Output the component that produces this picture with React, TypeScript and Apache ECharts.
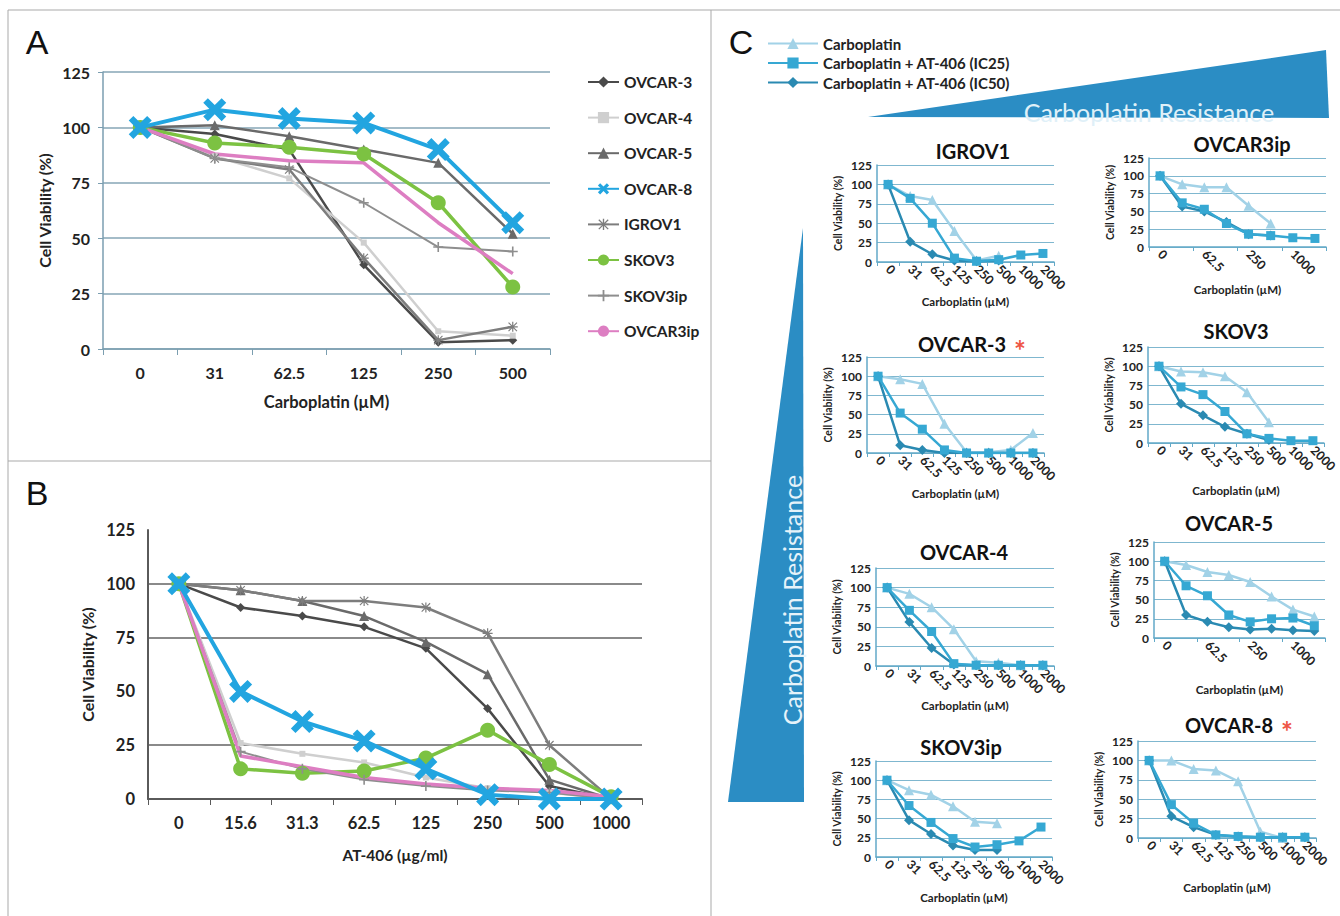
import React, { useEffect, useRef } from 'react';
import * as echarts from 'echarts';

// ---------- DATA ----------
const concA = ['0', '31', '62.5', '125', '250', '500'];
const concB = ['0', '15.6', '31.3', '62.5', '125', '250', '500', '1000'];
const concC = ['0', '31', '62.5', '125', '250', '500', '1000', '2000'];
const lineNames = ['OVCAR-3', 'OVCAR-4', 'OVCAR-5', 'OVCAR-8', 'IGROV1', 'SKOV3', 'SKOV3ip', 'OVCAR3ip'];

// Panel A: carboplatin
const aOVCAR3 = [100, 97, 90, 38, 3, 4];
const aOVCAR4 = [100, 87, 77, 48, 8, 6];
const aOVCAR5 = [100, 101, 96, 90, 84, 52];
const aOVCAR8 = [100, 108, 104, 102, 90, 57];
const aIGROV1 = [100, 86, 81, 41, 4, 10];
const aSKOV3 = [100, 93, 91, 88, 66, 28];
const aSKOV3ip = [100, 86, 82, 66, 46, 44];
const aOVCAR3ip = [100, 88, 85, 84, 57, 34];

// Panel B: AT-406
const bOVCAR3 = [100, 89, 85, 80, 70, 42, 6, 0];
const bOVCAR4 = [100, 26, 21, 17, 10, 5, 3, 0];
const bOVCAR5 = [100, 97, 92, 85, 73, 58, 9, 0];
const bOVCAR8 = [100, 50, 36, 27, 14, 2, 0, 0];
const bIGROV1 = [100, 97, 92, 92, 89, 77, 25, 0];
const bSKOV3 = [100, 14, 12, 13, 19, 32, 16, 1];
const bSKOV3ip = [100, 22, 14, 9, 6, 4, 3, 0];
const bOVCAR3ip = [100, 20, 15, 10, 7, 5, 4, 1];

// Panel C: carboplatin +/- AT-406
const seriesC = ['Carboplatin', 'Carboplatin + AT-406 (IC25)', 'Carboplatin + AT-406 (IC50)'];
const igrov1Carbo = [100, 85, 80, 40, 2, 8];
const igrov1IC25 = [100, 82, 50, 5, 1, 3, 9, 11];
const igrov1IC50 = [100, 26, 10, 2, 1, 2];
const ovcar3ipCarbo = [100, 88, 84, 84, 58, 33];
const ovcar3ipIC25 = [100, 62, 53, 33, 18, 16, 13, 12];
const ovcar3ipIC50 = [100, 57, 50, 35, 18, 16];
const ovcar3Carbo = [100, 96, 90, 38, 1, 1, 4, 26];
const ovcar3IC25 = [100, 52, 31, 4, 0, 0, 0, 0];
const ovcar3IC50 = [100, 10, 4, 0, 0, 0, 0, 0];
const skov3Carbo = [100, 93, 92, 87, 66, 27];
const skov3IC25 = [100, 73, 63, 41, 12, 6, 3, 3];
const skov3IC50 = [100, 51, 36, 21, 12, 4];
const ovcar4Carbo = [100, 92, 75, 47, 6, 4, 1, 1];
const ovcar4IC25 = [100, 71, 44, 3, 1, 1, 1, 1];
const ovcar4IC50 = [100, 56, 23, 2, 1, 1, 1, 1];
const ovcar5Carbo = [100, 95, 86, 82, 73, 54, 37, 28];
const ovcar5IC25 = [100, 68, 55, 30, 21, 25, 26, 16];
const ovcar5IC50 = [100, 30, 21, 14, 11, 12, 10, 9];
const skov3ipCarbo = [100, 87, 81, 66, 46, 44];
const skov3ipIC25 = [100, 67, 45, 24, 13, 16, 21, 39];
const skov3ipIC50 = [100, 48, 30, 15, 9, 9];
const ovcar8Carbo = [100, 100, 89, 87, 73, 8, 0];
const ovcar8IC25 = [100, 43, 19, 4, 2, 1, 1, 1];
const ovcar8IC50 = [100, 28, 14, 4, 2, 1, 1, 1];

const smallTitles = ['IGROV1', 'OVCAR3ip', 'OVCAR-3', 'SKOV3', 'OVCAR-4', 'OVCAR-5', 'SKOV3ip', 'OVCAR-8'];
const smallData = [
  [igrov1Carbo, igrov1IC25, igrov1IC50],
  [ovcar3ipCarbo, ovcar3ipIC25, ovcar3ipIC50],
  [ovcar3Carbo, ovcar3IC25, ovcar3IC50],
  [skov3Carbo, skov3IC25, skov3IC50],
  [ovcar4Carbo, ovcar4IC25, ovcar4IC50],
  [ovcar5Carbo, ovcar5IC25, ovcar5IC50],
  [skov3ipCarbo, skov3ipIC25, skov3ipIC50],
  [ovcar8Carbo, ovcar8IC25, ovcar8IC50],
];

// ---------- LAYOUT / STYLE ----------
const FONT = 'Lato, "Open Sans", sans-serif';
const TXT = '#222222';
const smallLayout = [
  { left: 877, top: 165, width: 177, height: 97, tx: 973, ty: 151, gap: 30, every: 0, star: false },
  { left: 1149, top: 158, width: 177, height: 89, tx: 1242, ty: 144, gap: 36, every: 1, star: false },
  { left: 867, top: 357, width: 177, height: 96, tx: 962, ty: 344, gap: 34, every: 0, star: true },
  { left: 1148, top: 347, width: 178, height: 96, tx: 1236, ty: 331, gap: 41, every: 0, star: false },
  { left: 876, top: 568, width: 178, height: 98, tx: 964, ty: 552, gap: 33, every: 0, star: false },
  { left: 1154, top: 542, width: 171, height: 96, tx: 1229, ty: 523, gap: 45, every: 1, star: false },
  { left: 876, top: 761, width: 176, height: 96, tx: 961, ty: 747, gap: 34, every: 0, star: false },
  { left: 1138, top: 741, width: 178, height: 97, tx: 1229, ty: 725, gap: 43, every: 0, star: true },
];

const X_SYM = 'path://M2,0L5,3L8,0L10,2L7,5L10,8L8,10L5,7L2,10L0,8L3,5L0,2Z';
const AST_SYM = 'path://M4.4,0h1.2v10h-1.2z M0,4.4h10v1.2h-10z M1.2,0.4L9.6,8.8L8.8,9.6L0.4,1.2z M8.8,0.4L9.6,1.2L1.2,9.6L0.4,8.8z';
const PLUS_SYM = 'path://M4.2,0h1.6v10h-1.6z M0,4.2h10v1.6h-10z';

const lineStyles: Record<string, any> = {
  'OVCAR-3': { color: '#4a4a4a', width: 2.5, symbol: 'diamond', size: 9 },
  'OVCAR-4': { color: '#cfcfcf', width: 2.5, symbol: 'rect', size: 6 },
  'OVCAR-5': { color: '#6a6a6a', width: 2.5, symbol: 'triangle', size: 10 },
  'OVCAR-8': { color: '#22a5e0', width: 4, symbol: X_SYM, size: 23 },
  'IGROV1': { color: '#7d7d7d', width: 2.5, symbol: AST_SYM, size: 10 },
  'SKOV3': { color: '#7cc242', width: 3.5, symbol: 'circle', size: 15 },
  'SKOV3ip': { color: '#8e8e8e', width: 2, symbol: PLUS_SYM, size: 10 },
  'OVCAR3ip': { color: '#dd7ec2', width: 3.5, symbol: 'none', size: 0 },
};
const cStyles = [
  { color: '#a2d2e7', symbol: 'triangle', size: 10, z: 2 },
  { color: '#36a8d3', symbol: 'rect', size: 9, z: 4 },
  { color: '#2a8ab2', symbol: 'diamond', size: 10, z: 3 },
];

function lineSeries(name: string, data: number[], idx: number) {
  const s = lineStyles[name];
  return {
    name, type: 'line', data, xAxisIndex: idx, yAxisIndex: idx,
    symbol: s.symbol, symbolSize: s.size, showSymbol: s.symbol !== 'none',
    lineStyle: { color: s.color, width: s.width },
    itemStyle: { color: s.color },
    z: name === 'OVCAR-8' ? 5 : 3,
  };
}

function buildOption() {
  const aData = [aOVCAR3, aOVCAR4, aOVCAR5, aOVCAR8, aIGROV1, aSKOV3, aSKOV3ip, aOVCAR3ip];
  const bData = [bOVCAR3, bOVCAR4, bOVCAR5, bOVCAR8, bIGROV1, bSKOV3, bSKOV3ip, bOVCAR3ip];

  const grids: any[] = [
    { left: 103, top: 72, width: 447, height: 277 },
    { left: 148, top: 530, width: 494, height: 269 },
  ];
  const xAxes: any[] = [
    {
      gridIndex: 0, type: 'category', data: concA, boundaryGap: true,
      name: 'Carboplatin (µM)', nameLocation: 'middle', nameGap: 44,
      nameTextStyle: { fontSize: 16.5, fontWeight: 'bold', color: TXT, fontFamily: FONT },
      axisLine: { lineStyle: { color: '#7b9eb0', width: 1.5 } },
      axisTick: { show: true, length: 6, lineStyle: { color: '#7b9eb0' } },
      axisLabel: { fontSize: 16, fontWeight: 'bold', color: TXT, margin: 15, fontFamily: FONT },
    },
    {
      gridIndex: 1, type: 'category', data: concB, boundaryGap: true,
      name: 'AT-406 (µg/ml)', nameLocation: 'middle', nameGap: 48,
      nameTextStyle: { fontSize: 15.5, fontWeight: 'bold', color: TXT, fontFamily: FONT },
      axisLine: { lineStyle: { color: '#5a5a5a', width: 2 } },
      axisTick: { show: true, length: 6, lineStyle: { color: '#5a5a5a' } },
      axisLabel: { fontSize: 16.5, fontWeight: 'bold', color: TXT, margin: 15, fontFamily: FONT },
    },
  ];
  const yAxes: any[] = [
    {
      gridIndex: 0, type: 'value', min: 0, max: 125, interval: 25,
      name: 'Cell Viability (%)', nameLocation: 'middle', nameGap: 51,
      nameTextStyle: { fontSize: 16, fontWeight: 'bold', color: TXT, fontFamily: FONT },
      axisLine: { show: true, lineStyle: { color: '#7b9eb0', width: 1.5 } },
      axisTick: { show: true, length: 5, lineStyle: { color: '#7b9eb0' } },
      axisLabel: { fontSize: 16, fontWeight: 'bold', color: TXT, margin: 13, fontFamily: FONT },
      splitLine: { show: true, lineStyle: { color: '#86a6b6', width: 1.5 } },
    },
    {
      gridIndex: 1, type: 'value', min: 0, max: 125, interval: 25,
      name: 'Cell Viability (%)', nameLocation: 'middle', nameGap: 53,
      nameTextStyle: { fontSize: 16, fontWeight: 'bold', color: TXT, fontFamily: FONT },
      axisLine: { show: true, lineStyle: { color: '#5a5a5a', width: 2 } },
      axisTick: { show: false },
      axisLabel: { fontSize: 16.5, fontWeight: 'bold', color: TXT, margin: 13, fontFamily: FONT },
      splitLine: {
        show: true,
        lineStyle: { color: ['rgba(0,0,0,0)', '#8a8a8a', 'rgba(0,0,0,0)', '#8a8a8a', '#8a8a8a', 'rgba(0,0,0,0)'], width: 1.8 },
      },
    },
  ];
  const series: any[] = [];
  lineNames.forEach((n, i) => series.push(lineSeries(n, aData[i], 0)));
  lineNames.forEach((n, i) => series.push(lineSeries(n, bData[i], 1)));

  const graphic: any[] = [];

  smallLayout.forEach((L, i) => {
    const gi = i + 2;
    grids.push({ left: L.left, top: L.top, width: L.width, height: L.height });
    xAxes.push({
      gridIndex: gi, type: 'category', data: concC, boundaryGap: true,
      name: 'Carboplatin (µM)', nameLocation: 'middle', nameGap: L.gap,
      nameTextStyle: { fontSize: 11.5, fontWeight: 'bold', color: TXT, fontFamily: FONT },
      axisLine: { lineStyle: { color: '#62a9c8', width: 1.5 } },
      axisTick: { show: true, length: 4, lineStyle: { color: '#62a9c8' } },
      axisLabel: { fontSize: 12.5, fontWeight: 'bold', color: TXT, rotate: -45, margin: 5, interval: L.every, fontFamily: FONT },
    });
    yAxes.push({
      gridIndex: gi, type: 'value', min: 0, max: 125, interval: 25,
      name: 'Cell Viability (%)', nameLocation: 'middle', nameGap: 34,
      nameTextStyle: { fontSize: 10.5, fontWeight: 'bold', color: TXT, fontFamily: FONT },
      axisLine: { show: true, lineStyle: { color: '#62a9c8', width: 1.5 } },
      axisTick: { show: false },
      axisLabel: { fontSize: 12, fontWeight: 'bold', color: TXT, margin: 5, fontFamily: FONT },
      splitLine: { show: true, lineStyle: { color: '#7fb7cf', width: 1.2 } },
    });
    seriesC.forEach((n, k) => {
      const st = cStyles[k];
      series.push({
        name: n, type: 'line', data: smallData[i][k], xAxisIndex: gi, yAxisIndex: gi,
        symbol: st.symbol, symbolSize: st.size, z: st.z,
        lineStyle: { color: st.color, width: 2.5 }, itemStyle: { color: st.color },
      });
    });
    graphic.push({
      type: 'text', x: L.tx, y: L.ty,
      style: { text: smallTitles[i], fill: '#111', font: `bold 20px ${FONT}`, textAlign: 'center', textVerticalAlign: 'middle', align: 'center', verticalAlign: 'middle' },
    });
    if (L.star) {
      graphic.push({
        type: 'text', x: L.tx + 58, y: L.ty + 6,
        style: { text: '*', fill: '#ee5544', font: `bold 28px ${FONT}`, textAlign: 'center', textVerticalAlign: 'middle', align: 'center', verticalAlign: 'middle' },
      });
    }
  });

  // frame lines
  const frame = '#a9a9a9';
  [[8, 10, 1340, 10], [8, 10, 8, 916], [711, 10, 711, 916], [8, 461, 711, 461]].forEach(([x1, y1, x2, y2]) => {
    graphic.push({ type: 'line', shape: { x1, y1, x2, y2 }, style: { stroke: frame, lineWidth: 1 } });
  });
  // panel letters
  [['A', 37, 42], ['B', 37, 493], ['C', 741, 42]].forEach(([t, x, y]) => {
    graphic.push({
      type: 'text', x, y,
      style: { text: t, fill: '#111', font: '34px "Liberation Sans", Arial, sans-serif', textAlign: 'center', textVerticalAlign: 'middle', align: 'center', verticalAlign: 'middle' },
    });
  });
  // resistance triangles
  graphic.push({ type: 'polygon', shape: { points: [[868, 117], [1326, 50], [1329, 118]] }, style: { fill: '#2b8dc4' } });
  graphic.push({
    type: 'text', x: 1149, y: 112,
    style: { text: 'Carboplatin Resistance', fill: '#dff0f8', font: `25px ${FONT}`, textAlign: 'center', textVerticalAlign: 'middle', align: 'center', verticalAlign: 'middle' },
  });
  graphic.push({ type: 'polygon', shape: { points: [[803, 228], [728, 802], [804, 802]] }, style: { fill: '#2b8dc4' } });
  graphic.push({
    type: 'text', x: 792, y: 600, rotation: Math.PI / 2,
    style: { text: 'Carboplatin Resistance', fill: '#e6f3fa', font: `25px ${FONT}`, textAlign: 'center', textVerticalAlign: 'middle', align: 'center', verticalAlign: 'middle' },
  });

  return {
    animation: false,
    backgroundColor: '#ffffff',
    textStyle: { fontFamily: FONT },
    legend: [
      {
        data: lineNames, orient: 'vertical', left: 587, top: 74, padding: 0,
        itemWidth: 31, itemHeight: 14, itemGap: 19.6, selectedMode: false,
        textStyle: { fontSize: 15.5, fontWeight: 'bold', color: TXT, fontFamily: FONT },
      },
      {
        data: seriesC, orient: 'vertical', left: 767, top: 36, padding: 0,
        itemWidth: 50, itemHeight: 14, itemGap: 4.5, selectedMode: false,
        textStyle: { fontSize: 15, fontWeight: 'bold', color: TXT, fontFamily: FONT },
      },
    ],
    grid: grids,
    xAxis: xAxes,
    yAxis: yAxes,
    series,
    graphic,
  };
}

export default function App() {
  const ref = useRef<HTMLDivElement>(null);
  useEffect(() => {
    const chart = echarts.init(ref.current as HTMLDivElement, null, { renderer: 'svg' });
    chart.setOption(buildOption() as any);
    return () => chart.dispose();
  }, []);
  return (
    <div
      ref={ref}
      style={{ position: 'absolute', left: 0, top: 0, width: 1340, height: 916, background: '#fff' }}
    />
  );
}
